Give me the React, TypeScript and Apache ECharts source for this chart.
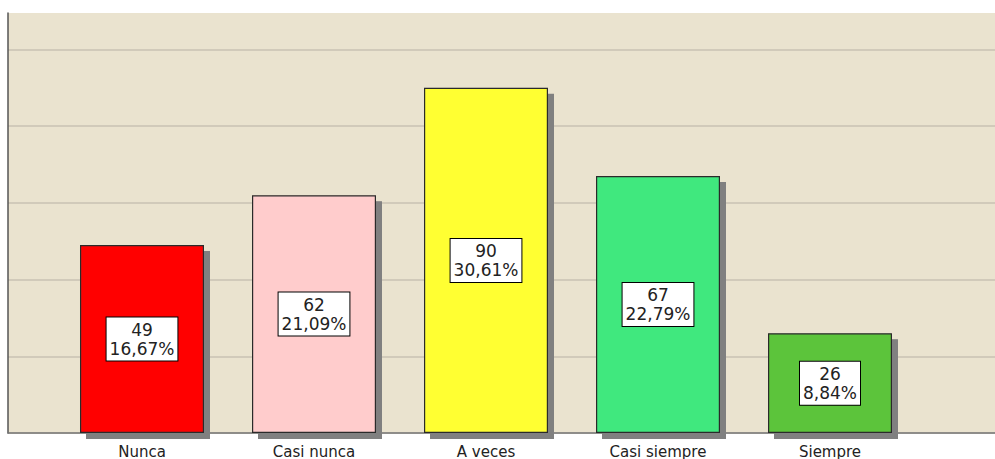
import React, { useEffect, useRef } from "react";
import * as echarts from "echarts";

const categories = ["Nunca", "Casi nunca", "A veces", "Casi siempre", "Siempre"];
const counts = [49, 62, 90, 67, 26];
const percents = ["16,67%", "21,09%", "30,61%", "22,79%", "8,84%"];
const barColors = ["#FF0000", "#FFCCCC", "#FFFF33", "#40E87E", "#5CC43A"];

export default function App() {
  const ref = useRef<HTMLDivElement>(null);
  useEffect(() => {
    if (!ref.current) return;
    const chart = echarts.init(ref.current, undefined, { renderer: "svg" });
    const yMax = 109.5;
    chart.setOption({
      animation: false,
      grid: [
        { left: 8, right: 0, top: 13, bottom: 26, show: true, backgroundColor: "#EAE3CF", borderWidth: 0 },
        { left: 56, width: 860, top: 13, bottom: 26 },
      ],
      xAxis: [
        {
          type: "value", gridIndex: 0, min: 0, max: 1,
          axisLine: { show: true, lineStyle: { color: "#777", width: 1.5 } },
          axisTick: { show: false }, axisLabel: { show: false }, splitLine: { show: false },
        },
        {
          type: "category", gridIndex: 1, data: categories,
          axisLine: { show: false }, axisTick: { show: false },
          axisLabel: { color: "#222", fontSize: 15, fontFamily: "DejaVu Sans", margin: 11 },
        },
      ],
      yAxis: [
        {
          type: "value", gridIndex: 0, min: 0, max: yMax, interval: 20,
          axisLine: { show: true, lineStyle: { color: "#555", width: 1.5 } },
          axisTick: { show: false }, axisLabel: { show: false },
          splitLine: { show: true, showMaxLine: false, lineStyle: { color: "#C8C2B3", width: 1.5 } },
        },
        { type: "value", gridIndex: 1, min: 0, max: yMax, show: false, splitLine: { show: false } },
      ],
      series: [
        {
          type: "bar", xAxisIndex: 1, yAxisIndex: 1, barWidth: 124,
          data: counts.map((v, i) => ({ value: v, itemStyle: { color: barColors[i] } })),
          itemStyle: {
            borderColor: "#2a2a2a", borderWidth: 1.2,
            shadowColor: "#808080", shadowOffsetX: 6, shadowOffsetY: 6, shadowBlur: 0,
          },
          label: {
            show: true, position: "inside",
            formatter: (p: any) => `${counts[p.dataIndex]}\n${percents[p.dataIndex]}`,
            backgroundColor: "#FFFFFF", borderColor: "#000", borderWidth: 1,
            padding: [3, 3, 2, 3], color: "#222", fontSize: 17, lineHeight: 19,
            fontFamily: "DejaVu Sans", align: "center",
          },
        },
      ],
    });
    return () => chart.dispose();
  }, []);
  return <div ref={ref} style={{ width: 995, height: 459, position: "absolute", left: 0, top: 0 }} />;
}
